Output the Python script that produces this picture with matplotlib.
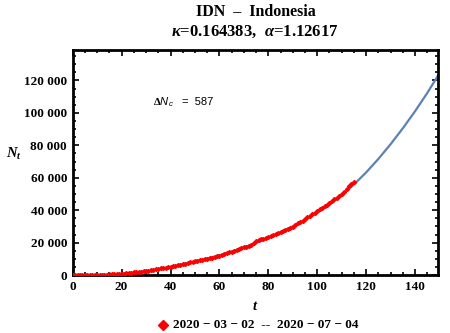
import numpy as np
import matplotlib
matplotlib.use("Agg")
import matplotlib.pyplot as plt
from matplotlib.lines import Line2D
from matplotlib.ticker import MultipleLocator, FuncFormatter

plt.rcParams['font.family'] = ['Liberation Serif', 'DejaVu Serif']
plt.rcParams['mathtext.fontset'] = 'custom'
plt.rcParams['mathtext.rm'] = 'Liberation Serif:bold'
plt.rcParams['mathtext.bf'] = 'Liberation Serif:bold'
plt.rcParams['mathtext.it'] = 'Liberation Sans:italic'
plt.rcParams['mathtext.bfit'] = 'Liberation Serif:bold:italic'

# observed cases, one per day (2020-03-02 .. )
days = list(range(0, 116))
cases = [2, 2, 5, 10, 20, 30, 40, 55, 70, 85,
         100, 140, 180, 230, 290, 350, 430, 510, 600, 700,
         800, 950, 1100, 1250, 1420, 1600, 1770, 1950, 2130, 2310,
         2500, 2750, 3000, 3270, 3530, 3800, 4080, 4350, 4630, 4920,
         5200, 5520, 5840, 6160, 6480, 6800, 7120, 7440, 7760, 8080,
         8400, 8720, 9040, 9360, 9680, 10000, 10400, 10800, 11200, 11600,
         12000, 12500, 13000, 13500, 14000, 14500, 15000, 15500, 16000, 16500,
         17000, 17500, 18000, 18600, 19600, 20800, 21700, 22100, 22500, 23000,
         23500, 24100, 24700, 25300, 25900, 26500, 27100, 27700, 28300, 28900,
         29600, 30700, 32000, 32800, 33600, 34500, 35500, 36500, 37500, 38500,
         39500, 40500, 41500, 42500, 43500, 44500, 45600, 46700, 47800, 48900,
         50000, 51500, 53000, 54700, 56300, 57500]

# fitted curve
fit_t = [0, 5, 10, 15, 20, 25, 30, 35, 40, 45, 50, 55, 60, 65, 70, 75,
         80, 85, 90, 95, 100, 105, 110, 115, 120, 125, 130, 135, 140, 145, 150]
fit_n = [0, 30, 120, 350, 750, 1400, 2300, 3500, 5000, 6600, 8300, 10200,
         12200, 14500, 17000, 19800, 22900, 26300, 30000, 34100, 38500,
         43400, 49300, 55800, 63300, 71600, 80700, 90500, 101000, 112300, 124500]

kappa = 0.164383
alpha = 1.12617
dNc = 587
date_from = '2020 \u2212 03 \u2212 02'
date_to = '2020 \u2212 07 \u2212 04'

fig = plt.figure(figsize=(4.5, 3.33), dpi=100)
ax = fig.add_axes([0.1615, 0.174, 0.8125, 0.677])

ax.plot(fit_t, fit_n, color='#5E81B5', lw=1.6, zorder=2)
ax.plot(days, cases, ls='none', marker='D', ms=2.0, color='red', mec='red', zorder=3)

ax.set_xlim(0, 149.5)
ax.set_ylim(0, 139000)
ax.xaxis.set_major_locator(MultipleLocator(20))
ax.xaxis.set_minor_locator(MultipleLocator(5))
ax.yaxis.set_major_locator(MultipleLocator(20000))
ax.yaxis.set_minor_locator(MultipleLocator(5000))
ax.yaxis.set_major_formatter(FuncFormatter(lambda v, p: '{:,}'.format(int(v)).replace(',', ' ')))
ax.tick_params(which='both', direction='in', top=True, right=True, width=1.2, colors='black')
ax.tick_params(which='major', length=4, labelsize=9.5, pad=4)
ax.tick_params(which='minor', length=2)
for lbl in ax.get_xticklabels() + ax.get_yticklabels():
    lbl.set_fontweight('bold')
for s in ax.spines.values():
    s.set_linewidth(2)

ax.set_xlabel(r'$\mathbfit{t}$', fontsize=10.5, labelpad=5)
ax.set_ylabel(r'$\mathbfit{N}_\mathbfit{t}$', fontsize=10.5, rotation=0)
ax.yaxis.set_label_coords(-0.16, 0.5)

ax.text(0.22, 0.755, r'$\mathit{\Delta N}_\mathit{c}$', transform=ax.transAxes,
        fontsize=8, family='Liberation Sans')
ax.text(0.30, 0.755, '=  %d' % dNc, transform=ax.transAxes, fontsize=8,
        family='Liberation Sans')

fig.text(0.568, 0.965, 'IDN  \u2013  Indonesia', ha='center', va='center',
         fontsize=11.5, fontweight='bold')
fig.text(0.567, 0.905, r'$\mathbfit{\kappa}$=%g,  $\mathbfit{\alpha}$=%g' % (kappa, alpha),
         ha='center', va='center', fontsize=12, fontweight='bold')

fig.add_artist(Line2D([0.363], [0.024], marker='D', ms=5, color='red', ls='none'))
fig.text(0.385, 0.024, date_from + '  --  ' + date_to, ha='left', va='center',
         fontsize=9.5, fontweight='bold')

fig.savefig('out.png', dpi=100, facecolor='white')
